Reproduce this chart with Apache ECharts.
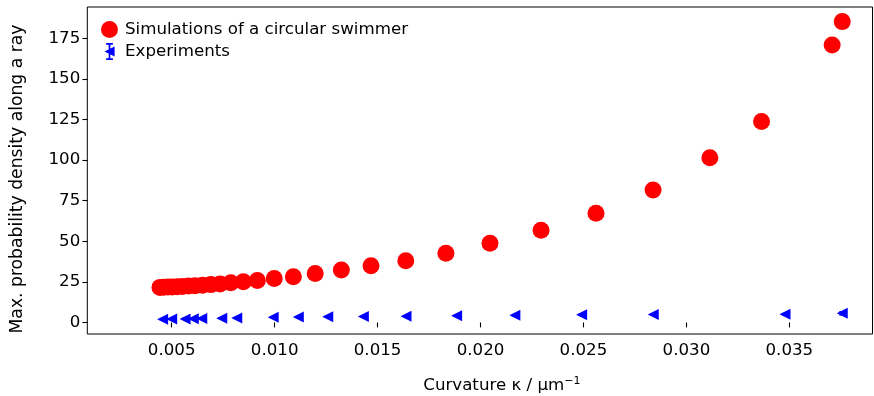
<!DOCTYPE html>
<html>
<head>
<meta charset="utf-8">
<script src="https://cdn.jsdelivr.net/npm/echarts@6/dist/echarts.min.js"></script>
<style>html,body{margin:0;padding:0;background:#fff}#c{width:874px;height:396px}</style>
</head>
<body>
<div id="c"></div>
<script>
// Simulations of a circular swimmer
var simX = [0.00443,0.00461,0.00481,0.00502,0.00526,0.00552,0.00581,0.00613,0.00650,0.00690,0.00735,0.00787,0.00848,0.00916,0.00998,0.01091,0.01197,0.01324,0.01468,0.01637,0.01832,0.02046,0.02294,0.02561,0.02838,0.03114,0.03365,0.03708,0.03757];
var simY = [21.6,21.7,21.8,21.9,22.0,22.2,22.4,22.6,22.9,23.3,23.7,24.4,25.1,25.8,27.0,28.2,30.2,32.3,34.9,38.0,42.6,48.8,56.8,67.3,81.5,101.4,123.7,170.8,185.2];
// Experiments
var expX = [0.00456,0.00500,0.00565,0.00605,0.00646,0.00743,0.00816,0.00993,0.01115,0.01258,0.01431,0.01638,0.01884,0.02167,0.02491,0.02839,0.03479,0.03757];
var expY = [2.0,2.1,2.2,2.3,2.4,2.6,2.8,3.2,3.3,3.5,3.6,3.8,4.2,4.4,4.8,4.9,5.0,5.6];
var expErr = [0.3,0.3,0.3,0.3,0.3,0.3,0.3,0.3,0.3,0.3,0.3,0.3,0.4,0.4,0.5,0.5,0.5,1.0];
// Ticks
var xTicks = [0.005,0.010,0.015,0.020,0.025,0.030,0.035];
var yTicks = [0,25,50,75,100,125,150,175];

var FONT = 'DejaVu Sans';
var FS = 16.67;

var simData = simX.map(function(x,i){return [x, simY[i]];});
var expData = expX.map(function(x,i){return [x, expY[i]];});
var errData = expX.map(function(x,i){return [x, expY[i]-expErr[i], expY[i]+expErr[i]];});

var chart = echarts.init(document.getElementById('c'), null, {renderer:'canvas'});
chart.setOption({
  animation:false,
  backgroundColor:'#fff',
  textStyle:{fontFamily:FONT},
  grid:{left:87.3, right:1.5, top:7, bottom:62, containLabel:false, outerBoundsMode:'none',
        show:true, borderColor:'#000', borderWidth:1, backgroundColor:'transparent'},
  legend:{
    orient:'vertical', left:96, top:16, itemGap:5, itemWidth:17, itemHeight:17,
    textStyle:{fontFamily:FONT, fontSize:FS, color:'#000', padding:[0,0,0,2]},
    data:[
      {name:'Simulations of a circular swimmer', icon:'circle'},
      {name:'Experiments', icon:'path://M2,0h8v2h-8z M5,0h2v20h-2z M2,18h8v2h-8z M0,10L12,4L12,16z'}
    ]
  },
  xAxis:{
    type:'value', min:0.0009, max:0.03904,
    axisLine:{show:false},
    splitLine:{show:false},
    axisTick:{show:true, length:4.9, lineStyle:{color:'#000', width:1.1}, customValues:xTicks},
    axisLabel:{fontFamily:FONT, fontSize:FS, color:'#000', margin:8, customValues:xTicks,
      formatter:function(v){return v.toFixed(3);}},
    name:'{a|Curvature κ / μm}{s|−1}',
    nameLocation:'middle', nameGap:42,
    nameTextStyle:{fontFamily:FONT, color:'#000', padding:[0,0,0,44],
      rich:{a:{fontFamily:FONT, fontSize:FS, color:'#000', lineHeight:20},
            s:{fontFamily:FONT, fontSize:11, color:'#000', verticalAlign:'top', lineHeight:12}}}
  },
  yAxis:{
    type:'value', min:-7.1, max:194.2,
    axisLine:{show:false},
    splitLine:{show:false},
    axisTick:{show:true, length:4.9, lineStyle:{color:'#000', width:1.1}, customValues:yTicks},
    axisLabel:{fontFamily:FONT, fontSize:FS, color:'#000', margin:7, customValues:yTicks},
    name:'Max. probability density along a ray',
    nameLocation:'middle', nameGap:61,
    nameTextStyle:{fontFamily:FONT, fontSize:17.2, color:'#000', padding:[0,17,0,0]}
  },
  series:[
    {
      name:'Simulations of a circular swimmer', type:'scatter', data:simData,
      symbol:'circle', symbolSize:17, itemStyle:{color:'#ff0000', opacity:1}, z:3
    },
    {
      name:'Experiments', type:'custom', data:errData,
      renderItem:function(params, api){
        var x = api.value(0);
        var lo = api.coord([x, api.value(1)]);
        var hi = api.coord([x, api.value(2)]);
        var cw = 3;
        return {type:'group', children:[
          {type:'line', shape:{x1:lo[0], y1:lo[1], x2:hi[0], y2:hi[1]}, style:{stroke:'#0000ff', lineWidth:1.2}},
          {type:'line', shape:{x1:lo[0]-cw, y1:lo[1], x2:lo[0]+cw, y2:lo[1]}, style:{stroke:'#0000ff', lineWidth:1.2}},
          {type:'line', shape:{x1:hi[0]-cw, y1:hi[1], x2:hi[0]+cw, y2:hi[1]}, style:{stroke:'#0000ff', lineWidth:1.2}}
        ]};
      },
      itemStyle:{color:'#0000ff'}, z:2
    },
    {
      name:'Experiments', type:'scatter', data:expData,
      symbol:'triangle', symbolSize:11, symbolRotate:90,
      itemStyle:{color:'#0000ff', opacity:1}, z:3
    }
  ]
});
</script>
</body>
</html>
